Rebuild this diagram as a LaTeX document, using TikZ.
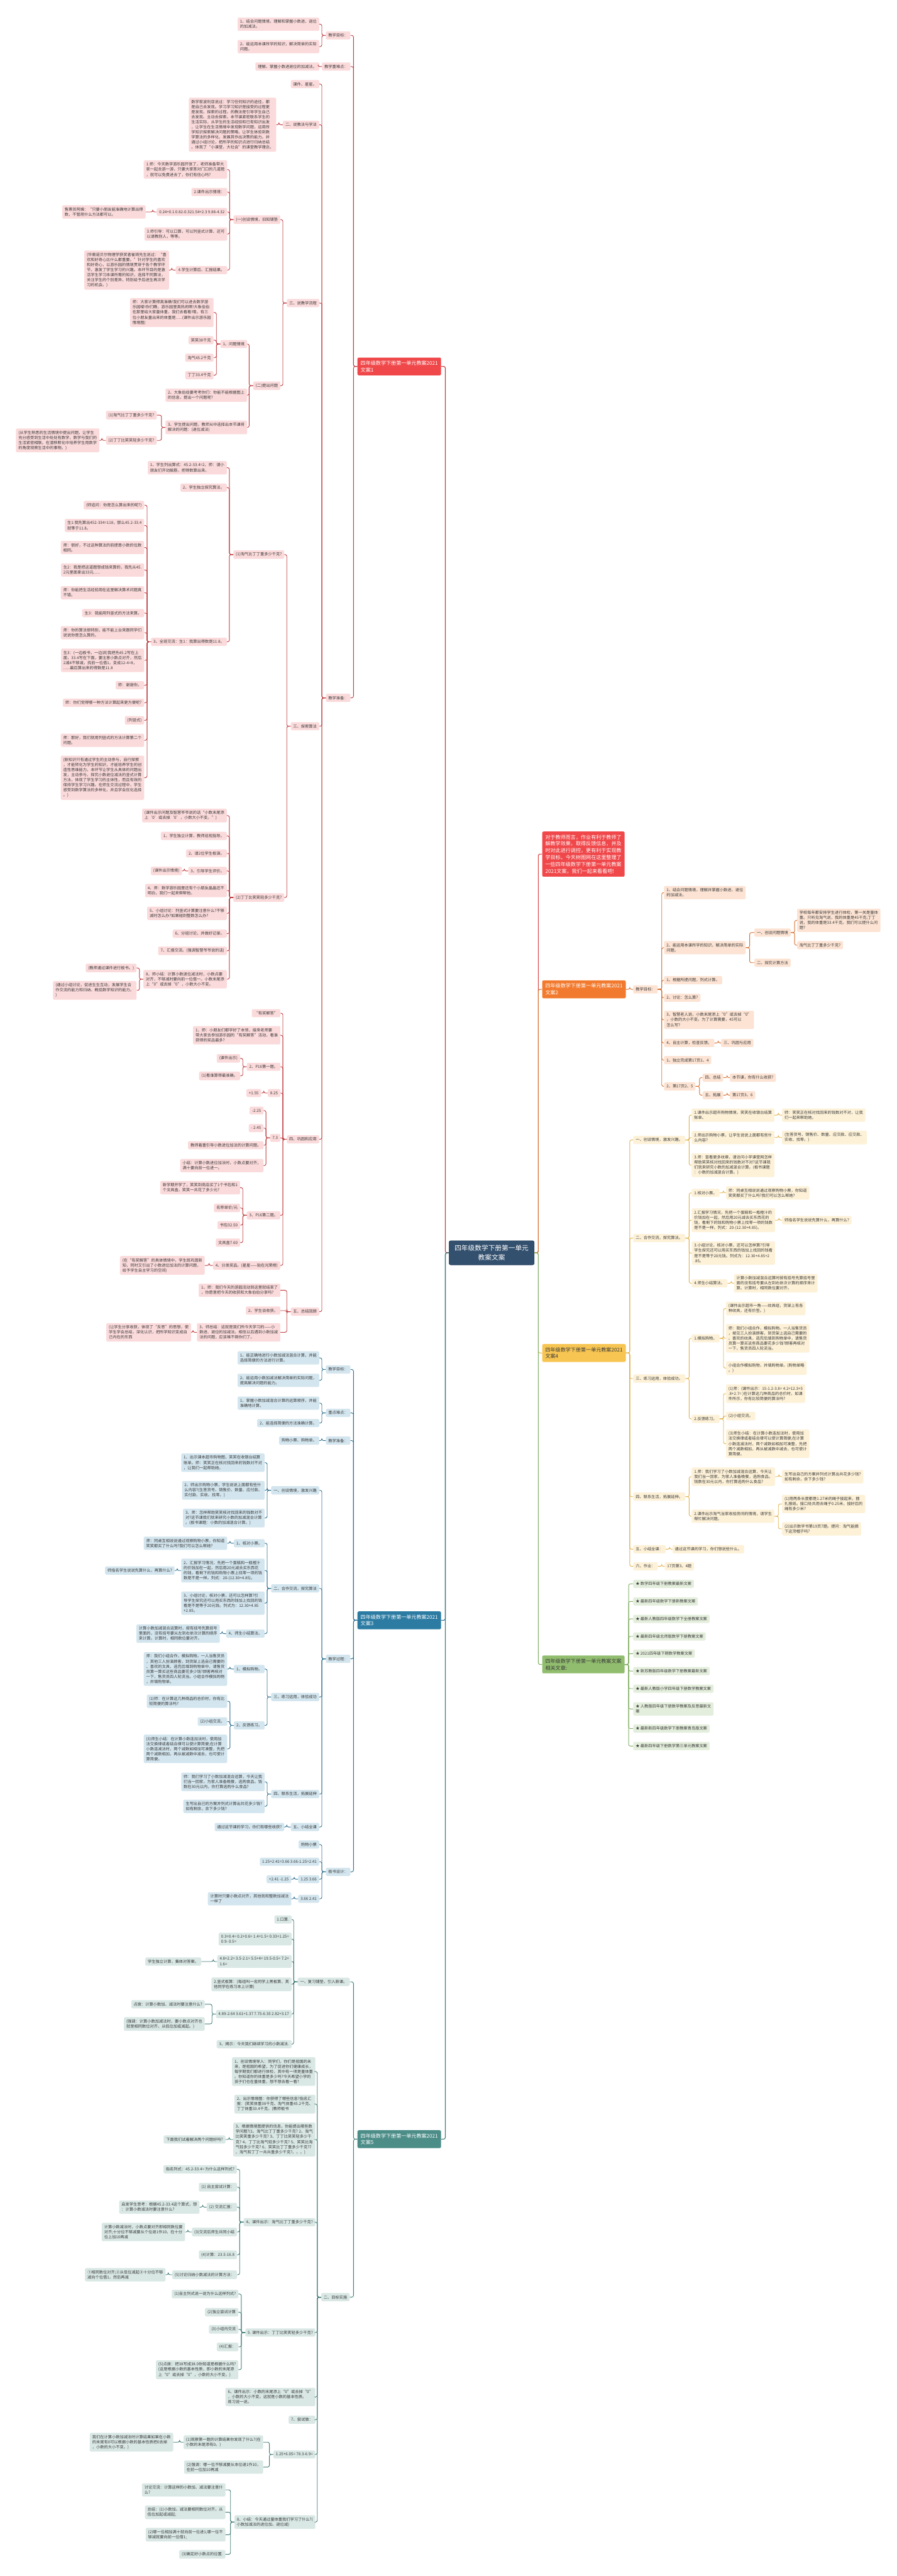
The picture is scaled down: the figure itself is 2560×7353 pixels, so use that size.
\documentclass[tikz,border=0pt]{standalone}
\usepackage{fontspec}
\setmainfont{Noto Sans CJK SC}
\usetikzlibrary{calc}
\definecolor{txt}{HTML}{3A3A3A}
\definecolor{fillA}{HTML}{FBDADB}\definecolor{lineA}{HTML}{BF3A3E}\definecolor{brA}{HTML}{F0484A}
\definecolor{fillG}{HTML}{D3E5EE}\definecolor{lineG}{HTML}{2C6E8F}\definecolor{brG}{HTML}{2B7BA3}
\definecolor{fillH}{HTML}{D9E8E5}\definecolor{lineH}{HTML}{3E7B76}\definecolor{brH}{HTML}{4C8D88}
\definecolor{fillI}{HTML}{FCE3D3}\definecolor{lineI}{HTML}{D66E2C}\definecolor{brI}{HTML}{F27A2E}
\definecolor{fillJ}{HTML}{FDF1D8}\definecolor{lineJ}{HTML}{E3B24C}\definecolor{brJ}{HTML}{F7C552}
\definecolor{fillK}{HTML}{E4EEDC}\definecolor{lineK}{HTML}{80AD63}\definecolor{brK}{HTML}{91BD6E}
\definecolor{brR}{HTML}{F0474A}\definecolor{lineR}{HTML}{D94040}
\definecolor{central}{HTML}{33506E}\definecolor{centralb}{HTML}{25405A}
\tikzset{
  leafnode/.style={rounded corners=1.5pt, align=left, inner xsep=3.5pt, inner ysep=3.2pt,
    font=\fontsize{5.6}{7.25}\selectfont, text=txt, execute at begin node={\vphantom{国}}},
  LA/.style={leafnode, fill=fillA, anchor=east},
  LG/.style={leafnode, fill=fillG, anchor=east},
  LH/.style={leafnode, fill=fillH, anchor=east},
  RI/.style={leafnode, fill=fillI, anchor=west},
  RJ/.style={leafnode, fill=fillJ, anchor=west},
  RK/.style={leafnode, fill=fillK, anchor=west},
  branchnode/.style={rounded corners=2pt, align=left, inner xsep=4.5pt, inner ysep=4.5pt,
    font=\fontsize{7.25}{9.7}\selectfont},
  conA/.style={draw=lineA, line width=0.8pt, rounded corners=2.5pt},
  conG/.style={draw=lineG, line width=0.8pt, rounded corners=2.5pt},
  conH/.style={draw=lineH, line width=0.8pt, rounded corners=2.5pt},
  conI/.style={draw=lineI, line width=0.8pt, rounded corners=2.5pt},
  conJ/.style={draw=lineJ, line width=0.8pt, rounded corners=2.5pt},
  conK/.style={draw=lineK, line width=0.8pt, rounded corners=2.5pt},
  conR/.style={draw=lineR, line width=0.8pt, rounded corners=2.5pt}
}
\newcommand\lconn[3]{\foreach \cc in {#3}{\draw[#1] (#2.west) -- ++(-11,0) |- (\cc.east);}}
\newcommand\rconn[3]{\foreach \cc in {#3}{\draw[#1] (#2.east) -- ++(11,0) |- (\cc.west);}}
\begin{document}
\begin{tikzpicture}[x=0.5pt,y=-0.5pt]
\useasboundingbox (0,0) rectangle (2560,7353);
\fill[white] (0,0) rectangle (2560,7353);

% ===== central =====
\node[fill=central, draw=centralb, line width=0.6pt, text=white, rounded corners=2.5pt, align=center,
  inner xsep=8pt, inner ysep=6pt, font=\fontsize{9.6}{13.5}\selectfont] (C) at (1404,3576) {四年级数学下册第一单元\\教案文案};

% ===== branch nodes =====
\node[branchnode, fill=brA, text=white, anchor=east] (B1) at (1260,1046) {四年级数学下册第一单元教案2021\\文案1};
\node[branchnode, fill=brG, text=white, anchor=east] (B3) at (1260,4625) {四年级数学下册第一单元教案2021\\文案3};
\node[branchnode, fill=brH, text=white, anchor=east] (B5) at (1260,6106) {四年级数学下册第一单元教案2021\\文案5};
\node[branchnode, fill=brR, text=white, anchor=west] (R0) at (1548,2438) {对于教师而言，作业有利于教师了\\解教学效果，取得反馈信息，并及\\时对此进行调控，更有利于实现教\\学目标。今天树图网在这里整理了\\一些四年级数学下册第一单元教案\\2021文案，我们一起来看看吧!};
\node[branchnode, fill=brI, text=white, anchor=west] (B2) at (1548,2824) {四年级数学下册第一单元教案2021\\文案2};
\node[branchnode, fill=brJ, text=txt, anchor=west] (B4) at (1548,3862) {四年级数学下册第一单元教案2021\\文案4};
\node[branchnode, fill=brK, text=txt, anchor=west] (B6) at (1548,4751) {四年级数学下册第一单元教案文案\\相关文章:};

% ===== 文案1 =====
\node[LA] (a1) at (1001,101) {教学目标：};
\node[LA] (a11) at (912,69) {1、结合问题情境，理解和掌握小数进、退位\\的加减法。};
\node[LA] (a12) at (912,133) {2、能运用本课所学的知识，解决简单的实际\\问题。};
\node[LA] (a2) at (1001,190) {教学重难点：};
\node[LA] (a21) at (912,190) {理解、掌握小数进退位的加减法。};
\node[LA] (a3) at (1001,1992) {教学准备：};
\node[LA] (a31) at (912,240) {课件、星星。};
\node[LA] (a32) at (912,356) {二、说教法与学法};
\node[LA] (a321) at (789,356) {数学家波利亚说过：学习任何知识的途径，都\\是自己去发现。学习学习知识是接受的过程更\\是发现、探索的过程。的教法是引导学生自己\\去发现、主动去探索。本节课紧密联系学生的\\生活实际，从学生的生活经验和已有知识出发\\，让学生在生活情境中发现数学问题，运用所\\学知识探索解决问题的策略，让学生体验到数\\学算法的多样化，发展其作出决策的能力。并\\通过小组讨论，把所学的知识点进行归纳总结\\。体现了“小课堂，大社会”的课堂教学理念。};
\node[LA] (a33) at (912,865) {三、说教学流程};
\node[LA] (a331) at (801,627) {(一)创设情境，旧知铺垫};
\node[LA] (a3311) at (649,484) {1.师：今天数学游乐园开张了，老师准备带大\\家一起去游一游，只要大家答对门口的几道题\\，就可以免费进去了，你们有信心吗?};
\node[LA] (a3312) at (649,548) {2.课件出示情境：};
\node[LA] (a3313) at (649,605) {0.24+0.1 0.82-0.321.54+2.3 9.88-4.32};
\node[LA] (a33131) at (416,605) {售票员阿姨：“只要小朋友能准确地计算出得\\数，不管用什么方法都可以。};
\node[LA] (a3314) at (649,668) {3.师引导：可以口算，可以列竖式计算、还可\\以请教别人，等等。};
\node[LA] (a3315) at (649,771) {4.学生计算后、汇报结果。};
\node[LA] (a33151) at (483,771) {(华裔诺贝尔物理学获奖者崔琦先生说过：“喜\\欢和好奇心比什么都重要。”针对学生的喜欢\\和好奇心，以游乐园的情境贯穿于各个教学环\\节，激发了学生学习的兴趣。本环节目的是激\\活学生学习本课所需的知识，选择不同算法，\\关注学生的个别差异，特别给予后进生再次学\\习的机会。)};
\node[LA] (a332) at (801,1101) {(二)提出问题};
\node[LA] (a3321) at (706,982) {1、问题情境};
\node[LA] (b1) at (610,892) {师：大家计算得真准确!我们可以进去数学游\\乐园喽!你们瞧，游乐园里真热闹啊!大象伯伯\\在那里给大家量体重，我们去看看!哦，有三\\位小朋友量出来的体重是......(课件出示游乐园\\情境图)};
\node[LA] (b2) at (610,971) {笑笑38千克};
\node[LA] (b3) at (610,1021) {淘气45.2千克};
\node[LA] (b4) at (610,1071) {丁丁33.4千克};
\node[LA] (a3322) at (706,1128) {2、大象伯伯要考考你们：你能不能根据图上\\的信息，提出一个问题呢?};
\node[LA] (a3323) at (706,1220) {3、学生提出问题，教师从中选择出本节课将\\解决的问题：(退位减法)};
\node[LA] (b5) at (448,1185) {(1)淘气比丁丁重多少千克?};
\node[LA] (b6) at (448,1257) {(2)丁丁比笑笑轻多少千克?};
\node[LA] (b61) at (284,1257) {(从学生熟悉的生活情境中提出问题，让学生\\充分感受到生活中处处有数学，数学与我们的\\生活紧密相联。在潜移默化中培养学生用数学\\的角度观察生活中的事物。)};
\node[LA] (a34) at (912,2073) {三、探索算法};
\node[LA] (a341) at (812,1583) {(1)淘气比丁丁重多少千克?};
\node[LA] (c1) at (648,1335) {1、学生列出算式：45.2-33.4=2、师：请小\\朋友们开动脑筋，把得数算出来。};
\node[LA] (c2) at (648,1392) {2、学生独立探究算法。};
\node[LA] (c3) at (648,1832) {3、全班交流：生1：我算出得数是11.8。};
\node[LA] (c31) at (412,1442) {(师追问：你是怎么算出来的呢?)};
\node[LA] (c32) at (412,1500) {生1:我先算出452-334=118，那么45.2-33.4\\就等于11.8。};
\node[LA] (c33) at (412,1563) {师：很好，不过这种算法的前提是小数的位数\\相同。};
\node[LA] (c34) at (412,1627) {生2：我是把这道题想成钱来算的，我先从45.\\2元里面拿出33元......};
\node[LA] (c35) at (412,1692) {师：你能把生活经验用在这里解决算术问题真\\不错。};
\node[LA] (c36) at (412,1750) {生3：我能用列竖式的方法来算。};
\node[LA] (c37) at (412,1806) {师：你的算法很特别，能不能上台来跟同学们\\说说你是怎么算的。};
\node[LA] (c38) at (412,1885) {生3：(一边板书，一边讲)我把先45.2写在上\\面，33.4写在下面，要注意小数点对齐，然后\\2减4不够减，找前一位借1，变成12-4=8，\\......最后算出来的得数是11.8};
\node[LA] (c39) at (412,1956) {师：谢谢你。};
\node[LA] (c310) at (412,2006) {师：你们觉得哪一种方法计算起来更方便呢?};
\node[LA] (c311) at (412,2056) {(列竖式)};
\node[LA] (c312) at (412,2113) {师：那好，我们就用列竖式的方法计算第二个\\问题。};
\node[LA] (c313) at (412,2220) {(新知识只有通过学生的主动参与，自行探索\\，才能转化为学生的知识，才能培养学生的创\\造性思维能力。本环节让学生从具体的问题出\\发，主动参与，探究小数退位减法的竖式计算\\方法，体现了学生学习的主体性，而且有效的\\保持学生学习兴趣。在师生交流过程中，学生\\感受到数学算法的多样化，并且学会优化选择\\。)};
\node[LA] (a342) at (812,2562) {(2)丁丁比笑笑轻多少千克?};
\node[LA] (d1) at (648,2328) {(课件出示问题及智慧爷爷说的话“小数末尾添\\上‘0’或去掉‘0’，小数大小不变。”)};
\node[LA] (d2) at (648,2386) {1、学生独立计算，教师巡视指导。};
\node[LA] (d3) at (648,2436) {2、请2位学生板演。};
\node[LA] (d4) at (648,2486) {3、引导学生评价。};
\node[LA] (d41) at (520,2486) {(课件出示情境)};
\node[LA] (d5) at (648,2542) {4、师：数学游乐园里还有个小朋友晶晶还不\\明白，我们一起来帮帮他。};
\node[LA] (d6) at (648,2607) {5、小组讨论：列竖式计算要注意什么?不够\\减时怎么办?如果碰到整数怎么办?};
\node[LA] (d7) at (648,2665) {6、分组讨论，并做好记录。};
\node[LA] (d8) at (648,2714) {7、汇报交流。(强调智慧爷爷说的话)};
\node[LA] (d9) at (648,2795) {8、师小结：计算小数退位减法时，小数点要\\对齐，不够减时要向前一位借一。小数末尾添\\上“0”或去掉“0”，小数大小不变。};
\node[LA] (d91) at (390,2763) {(教师通过课件进行板书。)};
\node[LA] (d92) at (390,2827) {(通过小组讨论，促进生生互动，发展学生合\\作交流的能力和归纳、概括数学知识的能力。\\)};
\node[LA] (a35) at (912,3252) {四、巩固和应用};
\node[LA] (e1) at (801,2892) {“有奖解答”};
\node[LA] (e2) at (801,2955) {1、师：小朋友们都学好了本领，接来老师要\\带大家去参加游乐园的“有奖解答”活动，看谁\\获得的奖品最多?};
\node[LA] (e3) at (801,3045) {2、P16第一题。};
\node[LA] (e31) at (686,3021) {(课件出示)};
\node[LA] (e32) at (686,3071) {(1)看谁算得最准确。};
\node[LA] (e4) at (801,3120) {8.25};
\node[LA] (e41) at (746,3120) {+1.55};
\node[LA] (e5) at (801,3248) {7.3};
\node[LA] (e51) at (753,3170) {-2.25};
\node[LA] (e52) at (753,3220) {- 2.45};
\node[LA] (e53) at (753,3269) {教师着重引导小数进位加法的计算问题。};
\node[LA] (e54) at (753,3327) {小结：计算小数进位加法时，小数点要对齐，\\满十要向前一位进一。};
\node[LA] (e6) at (801,3469) {3、P16第二题。};
\node[LA] (e61) at (686,3390) {新学期开学了，笑笑到商店买了1个书包和1\\个文具盒，笑笑一共花了多少元?};
\node[LA] (e62) at (686,3448) {名称单价/元};
\node[LA] (e63) at (686,3497) {书包32.50};
\node[LA] (e64) at (686,3547) {文具盒7.60};
\node[LA] (e7) at (801,3612) {4、分发奖品。(星星——贴在光荣榜)};
\node[LA] (e71) at (585,3612) {(在“有奖解答”的具体情境中，学生既巩固新\\知，同时又引出了小数进位加法的计算问题，\\给予学生自主学习的空间)};
\node[LA] (a36) at (912,3744) {五、总结回顾};
\node[LA] (f1) at (801,3683) {1、师：我们今天的游园活动到这里就结束了\\，你愿意把今天的收获和大象伯伯分享吗?};
\node[LA] (f2) at (801,3741) {2、学生谈收获。};
\node[LA] (f3) at (801,3803) {3、师总结：这就是我们所今天学习的——小\\数进、退位的加减法。相信以后遇到小数加减\\法的问题，应该难不倒你们了。};
\node[LA] (f31) at (546,3803) {(让学生分享收获，体现了“反思”的思想，使\\学生学会总结，深化认识，把所学知识变成自\\己内在的东西};

% ===== 文案3 =====
\node[LG] (g1) at (1001,3909) {教学目标：};
\node[LG] (g11) at (912,3876) {1、能正确地进行小数加减法混合计算，并能\\选择简便的方法进行计算。};
\node[LG] (g12) at (912,3940) {2、能运用小数加减法解决简单的实际问题，\\提高解决问题的能力。};
\node[LG] (g2) at (1001,4033) {重点难点：};
\node[LG] (g21) at (912,4005) {1、掌握小数加减混合计算的运算顺序，并能\\准确地计算。};
\node[LG] (g22) at (912,4062) {2、能选择简便的方法准确计算。};
\node[LG] (g3) at (1001,4112) {教学准备：};
\node[LG] (g31) at (912,4112) {购物小票、购物单。};
\node[LG] (g4) at (1001,4735) {教学过程：};
\node[LG] (g41) at (912,4254) {一、创设情境，激发兴趣};
\node[LG] (g411) at (756,4175) {1、出示课本超市购物图，笑笑在收银台结算\\账单。师：笑笑正在核对找回来的钱数对不对\\，让我们一起帮助她。};
\node[LG] (g412) at (756,4254) {2、师出示购物小票，学生说说上面都有些什\\么内容?(生答货号、销售价、数量、应付款、\\实付款、实收、找零。)};
\node[LG] (g413) at (756,4333) {3、师：怎样帮助笑笑核对找回来的钱数对不\\对?这节课我们就来研究小数的加减混合计算\\。(板书课题：小数的加减混合计算。)};
\node[LG] (g42) at (912,4534) {二、合作交流，探究算法};
\node[LG] (g421) at (756,4405) {1、核对小票。};
\node[LG] (g4211) at (649,4405) {师：同桌互相说说通过观察购物小票，你知道\\笑笑都买了什么吗?我们可以怎么帮她?};
\node[LG] (g422) at (756,4483) {2、汇报学习情况，先把一个蛋糕和一瓶橙汁\\的价钱加在一起，然后用20元减去买东西花\\的钱，看剩下的钱和购物小票上找零一项的钱\\数是不是一样。列式：20-(12.30+4.85)。};
\node[LG] (g4221) at (499,4483) {师指名学生说说先算什么，再算什么?};
\node[LG] (g423) at (756,4576) {3、小组讨论，核对小票，还可以怎样算?引\\导学生探究还可以用买东西的钱加上找回的钱\\看是不是等于20元钱。列式为：12.30+4.85\\+2.85。};
\node[LG] (g424) at (756,4663) {4、师生小结算法。};
\node[LG] (g4241) at (628,4663) {计算小数加减混合运算时，按有括号先算括号\\里面的，没有括号要从左到右依次计算的顺序\\来计算。计算时，相同数位要对齐。};
\node[LG] (g43) at (912,4844) {三、练习运用，体验成功};
\node[LG] (g431) at (756,4764) {1、模拟购物。};
\node[LG] (g4311) at (649,4764) {师：我们小组合作，模拟购物。一人当售货员\\，其他三人扮演顾客，到货架上选自己需要的\\、喜欢的文具，选完后填到购物单中，请售货\\员算一算买这些商品要花多少钱?顾客再核对\\一下，售货员四人轮流当。小组合作模拟购物\\，并填购物单。};
\node[LG] (g432) at (756,4925) {2、反馈练习。};
\node[LG] (g4321) at (649,4856) {(1)师：在计算这几种商品的总价时，你有比\\较简便的算法吗?};
\node[LG] (g4322) at (649,4914) {(2)小组交流。};
\node[LG] (g4323) at (649,4992) {(3)师生小结：在计算小数连加法时，使用加\\法交换律或者结合律可以使计算简便;在计算\\小数连减法时，两个减数如相加可凑整，先把\\两个减数相加，再从被减数中减去，也可使计\\算简便。};
\node[LG] (g44) at (912,5121) {四、联系生活，拓展延伸};
\node[LG] (g441) at (756,5086) {师：我们学习了小数加减混合运算，今天让我\\们当一回家，为家人准备晚餐，选购食品。钱\\数在30元以内，你打算选购什么食品?};
\node[LG] (g442) at (756,5156) {生写出自己的方案并列式计算出共花多少钱?\\如有剩余，余下多少钱?};
\node[LG] (g45) at (912,5215) {五、小结全课};
\node[LG] (g451) at (812,5215) {通过这节课的学习，你们有哪些收获?};
\node[LG] (g5) at (1001,5343) {板书设计：};
\node[LG] (g51) at (912,5265) {购物小票};
\node[LG] (g52) at (912,5314) {1.25+2.41=3.66 3.66-1.25=2.41};
\node[LG] (g53) at (912,5364) {1.25 3.66};
\node[LG] (g531) at (832,5364) {+2.41 -1.25};
\node[LG] (g54) at (912,5420) {3.66 2.41};
\node[LG] (g541) at (832,5420) {计算时只要小数点对齐，其他就和整数加减法\\一样了};

% ===== 文案5 =====
\node[LH] (h1) at (999,5657) {一、复习铺垫，引入新课。};
\node[LH] (h11) at (833,5479) {1.口算.};
\node[LH] (h12) at (833,5535) {0.3+0.4= 0.2+0.6= 1.4+1.5= 0.33+1.25=\\0.9- 0.5=};
\node[LH] (h13) at (833,5599) {4.8+2.2= 3.5-2.1= 5.5+4= 19.5-0.5= 7.2+\\1.6=};
\node[LH] (h131) at (575,5599) {学生独立计算，集体对答案。};
\node[LH] (h14) at (833,5664) {2.竖式板算：(每组叫一名同学上黑板算，其\\他同学在练习本上计算)};
\node[LH] (h15) at (833,5749) {4.89-2.64 3.61+1.37 7.75-6.35 2.82+3.17};
\node[LH] (h151) at (585,5721) {点拨：计算小数加、减法时要注意什么?};
\node[LH] (h152) at (585,5777) {(强调：计算小数加减法时，要小数点对齐也\\就是相同数位对齐，从低位加或减起。)};
\node[LH] (h16) at (833,5835) {3、揭示：今天我们继续学习的小数减法.};
\node[LH] (h2) at (999,6557) {二、目标实施};
\node[LH] (h21) at (901,5913) {1、创设情境导入：同学们，你们是祖国的未\\来，是祖国的希望，为了促进你们健康成长，\\每学期我们都进行体检，其中有一项是量体重\\。你知道你的体重是多少吗?今天希望小学的\\孩子们也在量体重，想不想去看一看?};
\node[LH] (h22) at (901,6006) {2、出示情境图：你获得了哪些信息?指名汇\\报：(笑笑体重38千克、淘气体重45.2千克、\\丁丁体重33.4千克。)教师板书};
\node[LH] (h23) at (901,6107) {3、根据情境图提供的信息，你能提出哪些数\\学问题?(1、淘气比丁丁重多少千克? 2、淘气\\比笑笑重多少千克? 3、丁丁比笑笑轻多少千\\克? 4、丁丁比淘气轻多少千克? 5、笑笑比淘\\气轻多少千克? 6、笑笑比丁丁重多少千克?7\\、淘气和丁丁一共共重多少千克?。。。)};
\node[LH] (h231) at (644,6107) {下面我们试着解决两个问题好吗?};
\node[LH] (h24) at (901,6343) {4、课件出示：淘气比丁丁重多少千克?};
\node[LH] (h241) at (677,6192) {指名列式：45.2-33.4= 为什么这样列式?};
\node[LH] (h242) at (677,6243) {(1) 自主尝试计算：};
\node[LH] (h243) at (677,6300) {(2) 交流汇报：};
\node[LH] (h2431) at (570,6300) {启发学生思考：根据45.2-33.4这个算式，想\\：计算小数减法时要注意什么?};
\node[LH] (h244) at (677,6371) {(3)交流后师生共同小结};
\node[LH] (h2441) at (529,6371) {计算小数减法时，小数点要对齐即相同数位要\\对齐;十分位不够减要从个位退1作10，在十分\\位上加10再减};
\node[LH] (h245) at (677,6436) {(4)计算：23.5-16.8};
\node[LH] (h246) at (677,6493) {(5)讨论归纳小数减法的计算方法：};
\node[LH] (h2461) at (473,6493) {①相同数位对齐;②从低位减起③十分位不够\\减向个位借1，然后再减};
\node[LH] (h25) at (901,6658) {5. 课件出示：丁丁比笑笑轻多少千克?};
\node[LH] (h251) at (681,6548) {(1)自主列式说一说为什么这样列式?};
\node[LH] (h252) at (681,6600) {(2)独立尝试计算};
\node[LH] (h253) at (681,6649) {(3)小组内交流};
\node[LH] (h254) at (681,6699) {(4)汇报：};
\node[LH] (h255) at (681,6764) {(5)点拨：把38写成38.0你知道是根据什么吗?\\(这是根据小数的基本性质，即小数的末尾添\\上“0”或去掉“0”，小数的大小不变。)};
\node[LH] (h26) at (901,6842) {6、课件出示：小数的末尾添上“0”或去掉“0”\\，小数的大小不变。这就是小数的基本性质。\\练习说一说。};
\node[LH] (h27) at (901,6907) {7、尝试做：};
\node[LH] (h28) at (901,7006) {1.25+6.05= 78.3-6.9=};
\node[LH] (h281) at (752,6971) {(1)观察第一题的计算结果你发现了什么?(在\\小数的末尾添有0。)};
\node[LH] (h2811) at (495,6971) {我们在计算小数加减法时计算结果如果在小数\\的末尾有0可以根据小数的基本性质把0去掉\\，小数的大小不变。)};
\node[LH] (h282) at (752,7042) {(2)强调：哪一位不够减要从本位退1作10，\\在前一位加10再减};
\node[LH] (h29) at (901,7199) {8、小结：今天通过量体重我们学习了什么?(\\小数加减法的进位加、退位减)};
\node[LH] (h291) at (644,7107) {讨论交流：计算这样的小数加、减法要注意什\\么?};
\node[LH] (h292) at (644,7171) {总结：(1)小数加、减法要相同数位对齐，从\\低位加起或减起;};
\node[LH] (h293) at (644,7235) {(2)哪一位相加满十就向前一位进1;哪一位不\\够减就要向前一位借1;};
\node[LH] (h294) at (644,7291) {(3)确定好小数点的位置.};

% ===== 文案2 =====
\node[RI] (i1) at (1808,2824) {教学目标：};
\node[RI] (i11) at (1896,2548) {1、结合问题情境，理解并掌握小数进、退位\\的加减法。};
\node[RI] (i12) at (1896,2705) {2、能运用本课所学的知识，解决简单的实际\\问题。};
\node[RI] (i121) at (2154,2662) {一、创设问题情境};
\node[RI] (i1211) at (2276,2627) {学校每年都安排学生进行体检，第一关是量体\\重。只听见淘气说，我的体重是45千克;丁丁\\说，我的体重是33.4千克。我们可以提什么问\\题?};
\node[RI] (i1212) at (2276,2698) {淘气比丁丁重多少千克?};
\node[RI] (i122) at (2154,2748) {二、探究计算方法};
\node[RI] (i13) at (1896,2798) {1、根据所提问题，列式计算。};
\node[RI] (i14) at (1896,2848) {2、讨论：怎么算?};
\node[RI] (i15) at (1896,2911) {3、智慧老人说，小数末尾添上“0”或去掉“0”\\，小数的大小不变。为了计算需要，45可以\\怎么写?};
\node[RI] (i16) at (1896,2977) {4、自主计算，检查反馈。};
\node[RI] (i161) at (2059,2977) {三、巩固与应用};
\node[RI] (i17) at (1896,3026) {1、独立完成第17页1、4};
\node[RI] (i18) at (1896,3101) {2、第17页2、5};
\node[RI] (i181) at (2006,3076) {四、总结};
\node[RI] (i1811) at (2084,3076) {本节课，你有什么收获?};
\node[RI] (i182) at (2006,3126) {五、拓展};
\node[RI] (i1821) at (2084,3126) {第17页3、6};

% ===== 文案4 =====
\node[RJ] (j1) at (1808,3254) {一、创设情境，激发兴趣。};
\node[RJ] (j11) at (1975,3183) {1.课件出示超市购物情境，笑笑在收银台结算\\账单。};
\node[RJ] (j111) at (2233,3183) {师：笑笑正在核对找回来的钱数对不对，让我\\们一起来帮助她。};
\node[RJ] (j12) at (1975,3247) {2.师出示购物小票，让学生说说上面都有些什\\么内容?};
\node[RJ] (j121) at (2233,3247) {(生答货号、销售价、数量、应交款、应交款、\\实收、找零。)};
\node[RJ] (j13) at (1975,3326) {3.师：查看更多纹章，请访问小学课堂网怎样\\帮助笑笑核对找回来的钱数对不对?这节课我\\们就来研究小数的加减混合计算。(板书课题\\：小数的加减混合计算。)};
\node[RJ] (j2) at (1808,3534) {二、合作交流，探究算法。};
\node[RJ] (j21) at (1975,3405) {1.核对小票。};
\node[RJ] (j211) at (2073,3405) {师：同桌互相说说通过观察购物小票，你知道\\笑笑都买了什么吗?我们可以怎么帮她?};
\node[RJ] (j22) at (1975,3483) {2.汇报学习情况，先把一个蛋糕和一瓶橙汁的\\价钱加在一起，然后用20元减去买东西花的\\钱，看剩下的钱和购物小票上找零一项的钱数\\是不是一样。列式：20-(12.30+4.85)。};
\node[RJ] (j221) at (2233,3483) {师指名学生说说先算什么，再算什么?};
\node[RJ] (j23) at (1975,3577) {3.小组讨论，核对小票，还可以怎样算?引导\\学生探究还可以用买东西的钱加上找回的钱看\\是不是等于20元钱。列式为：12.30+4.85+2\\.85。};
\node[RJ] (j24) at (1975,3663) {4.师生小结算法。};
\node[RJ] (j241) at (2096,3663) {计算小数加减混合运算时按有括号先算括号里\\面的没有括号要从左到右依次计算的顺序来计\\算。计算时，相同数位要对齐。};
\node[RJ] (j3) at (1808,3935) {三、练习运用，体验成功。};
\node[RJ] (j31) at (1975,3820) {1.模拟购物。};
\node[RJ] (j311) at (2073,3735) {(课件出示超市一角——纹具组，货架上有各\\种纹具，还有价签。)};
\node[RJ] (j312) at (2073,3820) {师：我们小组合作，模拟购物。一人当售货员\\，坡见三人扮演顾客，到货架上选自己需要的\\、喜欢的纹具，选完后填到购物单中，请售货\\员算一算买这些商品要花多少钱?顾客再核对\\一下，售货员四人轮流当。};
\node[RJ] (j313) at (2073,3905) {小组合作模拟购物，并填购物单。(购物单略\\。)};
\node[RJ] (j32) at (1975,4050) {2.反馈练习。};
\node[RJ] (j321) at (2073,3978) {(1)师：(课件出示：15-1.2-3.8= 4.2+12.3+5\\.8+2.7= )在计算这几种商品的总价时，如课\\件所示，你有比较简便的算法吗?};
\node[RJ] (j322) at (2073,4042) {(2)小组交流。};
\node[RJ] (j323) at (2073,4121) {(3)师生小结：在计算小数连加法时，使用加\\法交换律或者结合律可以使计算简便;在计算\\小数连减法时，两个减数如相加可凑整，先把\\两个减数相加，再从被减数中减去，也可使计\\算简便。};
\node[RJ] (j4) at (1808,4272) {四、联系生活，拓展延伸。};
\node[RJ] (j41) at (1975,4215) {1.师：我们学习了小数加减混合运算，今天让\\我们当一回家，为家人准备晚餐，选购食品。\\钱数在30元以内，你打算选购什么食品?};
\node[RJ] (j411) at (2233,4215) {生写出自己的方案并列式计算出共花多少钱?\\如有剩余，余下多少钱?};
\node[RJ] (j42) at (1975,4328) {2.课件出示淘气当家收拾房间的情境，请学生\\帮忙解决问题。};
\node[RJ] (j421) at (2233,4293) {(1)用两条长度都是1.27米的绳子接起来，捆\\扎报纸。接口处共用去绳子0.25米，接好后的\\绳有多少米?};
\node[RJ] (j422) at (2233,4364) {(2)出示数学书第19页7题。提问：淘气能摘\\下这顶帽子吗?};
\node[RJ] (j5) at (1808,4422) {五、小结全课：};
\node[RJ] (j51) at (1920,4422) {通过这节课的学习，你们想说些什么。};
\node[RJ] (j6) at (1808,4471) {六、作业：};
\node[RJ] (j61) at (1898,4471) {17页第3、4题};

% ===== 相关文章 =====
\node[RK] (k1) at (1808,4521) {★ 数学四年级下册教案最新文案};
\node[RK] (k2) at (1808,4571) {★ 最新四年级数学下册新教案文案};
\node[RK] (k3) at (1808,4621) {★ 最新人教版四年级数学下全册教案文案};
\node[RK] (k4) at (1808,4671) {★ 最新四年级北师版数学下册教案文案};
\node[RK] (k5) at (1808,4720) {★ 2021四年级下期数学教案文案};
\node[RK] (k6) at (1808,4770) {★ 新苏教版四年级数学下册教案最新文案};
\node[RK] (k7) at (1808,4820) {★ 最新人教版小学四年级下册数学教案文案};
\node[RK] (k8) at (1808,4878) {★ 人教版四年级下册数学教案及反思最新文\\案};
\node[RK] (k9) at (1808,4934) {★ 最新新四年级数学下册教案青岛版文案};
\node[RK] (k10) at (1808,4984) {★ 最新四年级下册数学第三单元教案文案};

% ===== trunk connectors =====
\draw[conA, line width=1pt] (C.west) -- ++(-10,0) |- (B1.east);
\draw[conG, line width=1pt] (C.west) -- ++(-10,0) |- (B3.east);
\draw[conH, line width=1pt] (C.west) -- ++(-10,0) |- (B5.east);
\draw[conR, line width=1pt] (C.east) -- ++(11,0) |- (R0.west);
\draw[conI, line width=1pt] (C.east) -- ++(11,0) |- (B2.west);
\draw[conJ, line width=1pt] (C.east) -- ++(11,0) |- (B4.west);
\draw[conK, line width=1pt] (C.east) -- ++(11,0) |- (B6.west);

% ===== 文案1 connectors =====
\lconn{conA}{B1}{a1,a2,a3}
\lconn{conA}{a1}{a11,a12}
\lconn{conA}{a2}{a21}
\lconn{conA}{a3}{a31,a32,a33,a34,a35,a36}
\lconn{conA}{a32}{a321}
\lconn{conA}{a33}{a331,a332}
\lconn{conA}{a331}{a3311,a3312,a3313,a3314,a3315}
\lconn{conA}{a3313}{a33131}
\lconn{conA}{a3315}{a33151}
\lconn{conA}{a332}{a3321,a3322,a3323}
\lconn{conA}{a3321}{b1,b2,b3,b4}
\lconn{conA}{a3323}{b5,b6}
\lconn{conA}{b6}{b61}
\lconn{conA}{a34}{a341,a342}
\lconn{conA}{a341}{c1,c2,c3}
\lconn{conA}{c3}{c31,c32,c33,c34,c35,c36,c37,c38,c39,c310,c311,c312,c313}
\lconn{conA}{a342}{d1,d2,d3,d4,d5,d6,d7,d8,d9}
\lconn{conA}{d4}{d41}
\lconn{conA}{d9}{d91,d92}
\lconn{conA}{a35}{e1,e2,e3,e4,e5,e6,e7}
\lconn{conA}{e3}{e31,e32}
\lconn{conA}{e4}{e41}
\lconn{conA}{e5}{e51,e52,e53,e54}
\lconn{conA}{e6}{e61,e62,e63,e64}
\lconn{conA}{e7}{e71}
\lconn{conA}{a36}{f1,f2,f3}
\lconn{conA}{f3}{f31}

% ===== 文案3 connectors =====
\lconn{conG}{B3}{g1,g2,g3,g4,g5}
\lconn{conG}{g1}{g11,g12}
\lconn{conG}{g2}{g21,g22}
\lconn{conG}{g3}{g31}
\lconn{conG}{g4}{g41,g42,g43,g44,g45}
\lconn{conG}{g41}{g411,g412,g413}
\lconn{conG}{g42}{g421,g422,g423,g424}
\lconn{conG}{g421}{g4211}
\lconn{conG}{g422}{g4221}
\lconn{conG}{g424}{g4241}
\lconn{conG}{g43}{g431,g432}
\lconn{conG}{g431}{g4311}
\lconn{conG}{g432}{g4321,g4322,g4323}
\lconn{conG}{g44}{g441,g442}
\lconn{conG}{g45}{g451}
\lconn{conG}{g5}{g51,g52,g53,g54}
\lconn{conG}{g53}{g531}
\lconn{conG}{g54}{g541}

% ===== 文案5 connectors =====
\lconn{conH}{B5}{h1,h2}
\lconn{conH}{h1}{h11,h12,h13,h14,h15,h16}
\lconn{conH}{h13}{h131}
\lconn{conH}{h15}{h151,h152}
\lconn{conH}{h2}{h21,h22,h23,h24,h25,h26,h27,h28,h29}
\lconn{conH}{h23}{h231}
\lconn{conH}{h24}{h241,h242,h243,h244,h245,h246}
\lconn{conH}{h243}{h2431}
\lconn{conH}{h244}{h2441}
\lconn{conH}{h246}{h2461}
\lconn{conH}{h25}{h251,h252,h253,h254,h255}
\lconn{conH}{h28}{h281,h282}
\lconn{conH}{h281}{h2811}
\lconn{conH}{h29}{h291,h292,h293,h294}

% ===== 文案2 connectors =====
\rconn{conI}{B2}{i1}
\rconn{conI}{i1}{i11,i12,i13,i14,i15,i16,i17,i18}
\rconn{conI}{i12}{i121,i122}
\rconn{conI}{i121}{i1211,i1212}
\rconn{conI}{i16}{i161}
\rconn{conI}{i18}{i181,i182}
\rconn{conI}{i181}{i1811}
\rconn{conI}{i182}{i1821}

% ===== 文案4 connectors =====
\rconn{conJ}{B4}{j1,j2,j3,j4,j5,j6}
\rconn{conJ}{j1}{j11,j12,j13}
\rconn{conJ}{j11}{j111}
\rconn{conJ}{j12}{j121}
\rconn{conJ}{j2}{j21,j22,j23,j24}
\rconn{conJ}{j21}{j211}
\rconn{conJ}{j22}{j221}
\rconn{conJ}{j24}{j241}
\rconn{conJ}{j3}{j31,j32}
\rconn{conJ}{j31}{j311,j312,j313}
\rconn{conJ}{j32}{j321,j322,j323}
\rconn{conJ}{j4}{j41,j42}
\rconn{conJ}{j41}{j411}
\rconn{conJ}{j42}{j421,j422}
\rconn{conJ}{j5}{j51}
\rconn{conJ}{j6}{j61}

% ===== related connectors =====
\rconn{conK}{B6}{k1,k2,k3,k4,k5,k6,k7,k8,k9,k10}
\end{tikzpicture}
\end{document}
